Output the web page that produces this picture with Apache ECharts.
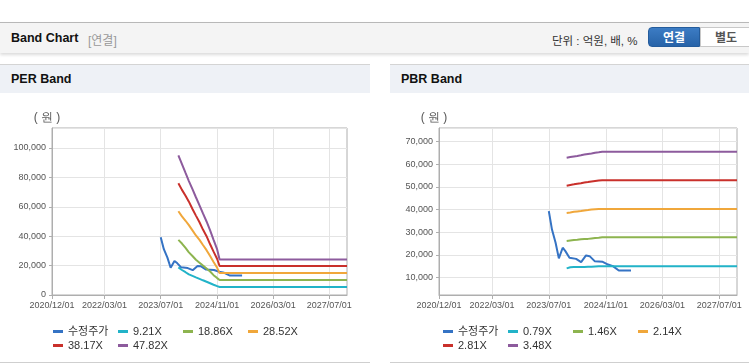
<!DOCTYPE html>
<html>
<head>
<meta charset="utf-8">
<script src="https://cdn.jsdelivr.net/npm/echarts@6/dist/echarts.min.js"></script>
<style>
  body { margin: 0; width: 749px; height: 364px; overflow: hidden; background: #fff;
         font-family: "Liberation Sans", "Noto Sans CJK KR", sans-serif; position: relative; }
  .topbar { position: absolute; left: 0; top: 22px; width: 749px; height: 30px;
            border-top: 1px solid #b8b8b8; background: #f4f4f4;
            box-shadow: 0 2px 3px rgba(0,0,0,0.14); }
  .topbar .title { position: absolute; left: 11px; top: 8px; font-size: 12.5px; font-weight: bold; color: #111; }
  .topbar .sub { position: absolute; left: 88px; top: 8px; font-size: 12px; color: #999; }
  .topbar .unit { position: absolute; left: 552px; top: 9px; font-size: 11.5px; color: #333; }
  .btn { position: absolute; top: 4px; height: 20px; line-height: 20px; text-align: center;
         font-size: 12px; font-weight: bold; box-sizing: border-box; }
  .btn.on { left: 648px; width: 52px; background: linear-gradient(#3c7cc4, #2763a8); color: #fff;
            border-radius: 4px 0 0 4px; border: 1px solid #245c9c; }
  .btn.off { left: 700px; width: 52px; background: #fff; color: #555; border: 1px solid #c8c8c8; }
  .panel { position: absolute; top: 64px; height: 298px; border-bottom: 1px solid #cfcfcf; }
  .panel .head { height: 28px; border-top: 1px solid #d4d4d4; background: #eef1f6;
                 font-size: 12.5px; font-weight: bold; color: #111; line-height: 28px; padding-left: 11px; }
  .chart { position: absolute; left: 0; top: 29px; height: 269px; }
</style>
</head>
<body>
<div class="topbar">
  <span class="title">Band Chart</span>
  <span class="sub">[연결]</span>
  <span class="unit">단위 : 억원, 배, %</span>
  <div class="btn on">연결</div>
  <div class="btn off">별도</div>
</div>
<div class="panel" style="left:0;width:370px;">
  <div class="head">PER Band</div>
  <div class="chart" id="perChart" style="width:370px;"></div>
</div>
<div class="panel" style="left:390px;width:359px;">
  <div class="head">PBR Band</div>
  <div class="chart" id="pbrChart" style="width:359px;"></div>
</div>
<script>
// x축 눈금
var tickDates = ['2020/12/01', '2022/03/01', '2023/07/01', '2024/11/01', '2026/03/01', '2027/07/01'];
var axisStart = '2020/12/01';
var axisEnd = '2027/12/01';

// 수정주가
var priceDates = ['2023/07/01', '2023/07/28', '2023/08/28', '2023/09/25', '2023/10/28', '2023/11/20',
    '2023/12/25', '2024/02/20', '2024/04/03', '2024/05/15', '2024/06/15', '2024/07/28',
    '2024/10/05', '2024/11/20', '2025/01/01', '2025/02/20', '2025/06/05'];
var priceValues = [39300, 31200, 25400, 18500, 23200, 21700,
    18800, 18300, 16900, 19800, 19500, 17300,
    17000, 15800, 15100, 13200, 13200];

// 밴드 날짜
var bandDates = ['2023/12/01', '2024/01/01', '2024/02/01', '2024/03/01', '2024/04/01', '2024/05/01',
    '2024/06/01', '2024/07/01', '2024/08/01', '2024/09/01', '2024/10/01', '2024/11/01',
    '2024/11/22', '2027/12/01'];

// PER 밴드
var perNames = ['수정주가', '9.21X', '18.86X', '28.52X', '38.17X', '47.82X'];
var per921 = [18800, 17000, 15500, 14000, 13000, 12000, 11000, 10000, 9000, 8000, 7000, 6000, 5400, 5400];
var per1886 = [37500, 35000, 32000, 29000, 26500, 24000, 22000, 20000, 18000, 16000, 13500, 11500, 10200, 10200];
var per2852 = [57000, 53500, 50500, 47500, 44000, 40500, 37500, 34000, 30500, 26500, 22500, 18500, 14900, 14900];
var per3817 = [76000, 71500, 67500, 63500, 58500, 54000, 49500, 44500, 40000, 34500, 29500, 24500, 19700, 19700];
var per4782 = [95000, 89000, 83000, 77500, 72000, 66500, 61000, 55500, 50000, 44000, 37500, 31000, 24200, 24200];

// PBR 밴드
var pbrNames = ['수정주가', '0.79X', '1.46X', '2.14X', '2.81X', '3.48X'];
var pbr079 = [14100, 14600, 14700, 14700, 14700, 14700, 14800, 14800, 14900, 15000, 15000, 15000, 15000, 15000];
var pbr146 = [26200, 26400, 26600, 26700, 26900, 27000, 27100, 27300, 27500, 27600, 27800, 27800, 27800, 27800];
var pbr214 = [38500, 38700, 39000, 39200, 39400, 39600, 39800, 40000, 40100, 40200, 40200, 40200, 40200, 40200];
var pbr281 = [50500, 50800, 51100, 51400, 51600, 51900, 52100, 52400, 52600, 52800, 52900, 52900, 52900, 52900];
var pbr348 = [62800, 63100, 63400, 63600, 63900, 64200, 64500, 64700, 65000, 65200, 65400, 65500, 65500, 65500];

var colors = ['#3573c4', '#22b3c8', '#8db44f', '#f0a73b', '#c9302b', '#8d5b9d'];

function toTime(s) {
    var p = s.split('/');
    return new Date(+p[0], +p[1] - 1, +p[2]).getTime();
}

function pairs(dates, values) {
    var out = [];
    for (var i = 0; i < dates.length; i++) {
        out.push([toTime(dates[i]), values[i]]);
    }
    return out;
}

function pad2(n) { return n < 10 ? '0' + n : '' + n; }

function makeOption(names, bands, gridLeft, gridWidth, yAxisCfg) {
    var tickValues = tickDates.map(toTime);
    var series = [{
        name: names[0],
        type: 'line',
        data: pairs(priceDates, priceValues)
    }];
    for (var i = 0; i < bands.length; i++) {
        series.push({
            name: names[i + 1],
            type: 'line',
            data: pairs(bandDates, bands[i])
        });
    }
    series.forEach(function (s) {
        s.showSymbol = false;
        s.symbol = 'none';
        s.lineStyle = { width: 2 };
    });
    // 범례는 표처럼 칸을 맞춰서 하나씩 배치
    var legends = names.map(function (name, k) {
        return {
            left: 53 + (k % 4) * 65,
            top: 233 + Math.floor(k / 4) * 14,
            data: [name],
            icon: 'rect',
            itemWidth: 10,
            itemHeight: 3,
            padding: 0,
            textStyle: { color: '#333', fontSize: 11, fontFamily: 'Liberation Sans, Noto Sans CJK KR' }
        };
    });
    return {
        animation: false,
        color: colors,
        grid: {
            left: gridLeft, top: 35, width: gridWidth, height: 167,
            show: true, borderColor: '#aeaeae', borderWidth: 1, backgroundColor: 'transparent'
        },
        legend: legends,
        xAxis: {
            type: 'value',
            min: toTime(axisStart),
            max: toTime(axisEnd),
            axisLine: { lineStyle: { color: '#aeaeae' } },
            axisTick: { show: true, length: 4, customValues: tickValues, lineStyle: { color: '#aeaeae' } },
            splitLine: { show: true, lineStyle: { color: '#e4e4e4' } },
            axisLabel: {
                customValues: tickValues,
                color: '#555',
                fontSize: 9,
                fontFamily: 'Liberation Sans',
                margin: 6,
                hideOverlap: false,
                formatter: function (v) {
                    var d = new Date(v);
                    return d.getFullYear() + '/' + pad2(d.getMonth() + 1) + '/' + pad2(d.getDate());
                }
            }
        },
        yAxis: Object.assign({
            type: 'value',
            name: '( 원 )',
            nameLocation: 'end',
            nameGap: 4,
            nameTextStyle: { color: '#555', fontSize: 12, align: 'center', padding: [0, 10, 0, 0] },
            axisLine: { show: true, lineStyle: { color: '#aeaeae' } },
            axisTick: { show: true, length: 3, lineStyle: { color: '#aeaeae' } },
            splitLine: { lineStyle: { color: '#e4e4e4' } }
        }, yAxisCfg),
        series: series
    };
}

var perChart = echarts.init(document.getElementById('perChart'));
perChart.setOption(makeOption(perNames, [per921, per1886, per2852, per3817, per4782], 52, 295, {
    min: 0,
    max: 113600,
    interval: 20000,
    axisLabel: { color: '#555', fontSize: 9, fontFamily: 'Liberation Sans', margin: 6, showMaxLabel: false }
}));

var pbrChart = echarts.init(document.getElementById('pbrChart'));
pbrChart.setOption(makeOption(pbrNames, [pbr079, pbr146, pbr214, pbr281, pbr348], 49, 298, {
    min: 2400,
    max: 75900,
    splitNumber: 7,
    axisLabel: { color: '#555', fontSize: 9, fontFamily: 'Liberation Sans', margin: 6, showMinLabel: false, showMaxLabel: false }
}));
</script>
</body>
</html>
